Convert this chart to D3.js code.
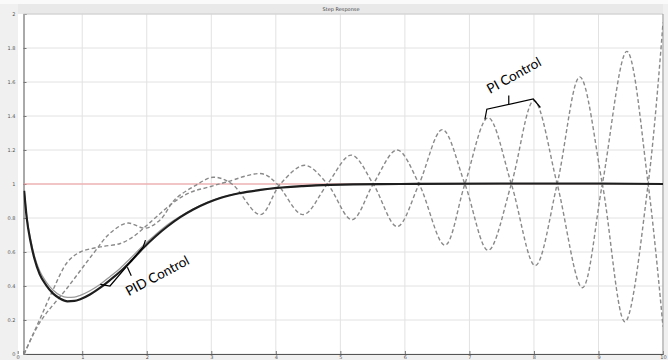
<!DOCTYPE html>
<html>
<head>
<meta charset="utf-8">
<script src="https://cdn.jsdelivr.net/npm/d3@7"></script>
<style>
  body { margin: 0; background: #f2f2f2; }
  svg { display: block; }
</style>
</head>
<body>
<svg id="chart" width="668" height="360"></svg>
<script>
// Tick values
const xTicks = [0, 1, 2, 3, 4, 5, 6, 7, 8, 9, 10];
const yTicks = [0, 0.2, 0.4, 0.6, 0.8, 1, 1.2, 1.4, 1.6, 1.8, 2];

// Reference (setpoint) level
const setpoint = [[0.09, 1], [10, 1]];

// PID control responses (solid)
const pidMain = [
  [0.10, 0.96], [0.14, 0.80], [0.20, 0.66], [0.26, 0.56], [0.34, 0.47], [0.44, 0.405],
  [0.55, 0.355], [0.66, 0.325], [0.77, 0.31], [0.88, 0.312], [0.97, 0.322], [1.12, 0.35],
  [1.28, 0.39], [1.43, 0.435], [1.59, 0.485], [1.74, 0.54], [1.95, 0.625], [2.13, 0.69],
  [2.32, 0.75], [2.52, 0.805], [2.72, 0.85], [2.94, 0.89], [3.14, 0.918], [3.45, 0.947],
  [3.76, 0.965], [4.02, 0.977], [4.42, 0.988], [4.84, 0.995], [5.20, 0.998], [5.93, 1.0],
  [7.48, 1.003], [9.02, 1.003], [10, 1.0]
];
const pidAlt = [
  [0.10, 0.965], [0.14, 0.81], [0.20, 0.675], [0.26, 0.575], [0.34, 0.49], [0.44, 0.425],
  [0.55, 0.375], [0.66, 0.345], [0.77, 0.333], [0.88, 0.335], [0.97, 0.345], [1.12, 0.372],
  [1.28, 0.41], [1.43, 0.455], [1.59, 0.505], [1.74, 0.56], [1.95, 0.64], [2.13, 0.70],
  [2.32, 0.76], [2.52, 0.81], [2.72, 0.853], [2.94, 0.892], [3.14, 0.92], [3.45, 0.948],
  [3.76, 0.966], [4.42, 0.988], [5.20, 0.998], [10, 1.0]
];

// PI control responses (dashed)
const piA = [
  [0.10, 0], [0.23, 0.11], [0.35, 0.21], [0.55, 0.38], [0.77, 0.54], [0.97, 0.60],
  [1.28, 0.63], [1.59, 0.65], [1.79, 0.69], [1.98, 0.75], [2.16, 0.81], [2.41, 0.89],
  [2.67, 0.95], [2.94, 0.98], [3.22, 1.01], [3.79, 1.06], [4.02, 1.0], [4.42, 0.82],
  [4.80, 1.0], [5.17, 1.17], [5.51, 1.0], [5.88, 0.75], [6.22, 1.0], [6.58, 1.32],
  [6.93, 1.0], [7.29, 0.61], [7.65, 1.0], [8.00, 1.49], [8.36, 1.0], [8.75, 0.39],
  [9.06, 1.0], [9.44, 1.78], [9.77, 1.0], [10, 0.16]
];
const piB = [
  [0.10, 0], [0.35, 0.19], [0.77, 0.39], [1.17, 0.59], [1.43, 0.71], [1.70, 0.77],
  [1.98, 0.74], [2.21, 0.79], [2.44, 0.91], [2.75, 0.99], [3.03, 1.04], [3.32, 1.0],
  [3.76, 0.82], [4.07, 1.0], [4.45, 1.11], [4.80, 1.0], [5.18, 0.79], [5.51, 1.0],
  [5.88, 1.2], [6.22, 1.0], [6.62, 0.64], [6.93, 1.0], [7.29, 1.39], [7.65, 1.0],
  [8.02, 0.52], [8.36, 1.0], [8.71, 1.63], [9.06, 1.0], [9.41, 0.19], [9.77, 1.0],
  [10, 1.95]
];

// Annotation brackets (data coordinates)
const pidBracket = [[1.28, 0.41], [1.43, 0.40], [1.945, 0.63], [1.98, 0.67]];
const pidTick = [[1.70, 0.51], [1.76, 0.46]];
const piBracket = [[7.24, 1.38], [7.27, 1.44], [7.99, 1.50], [8.10, 1.45]];
const piTick = [[7.61, 1.47], [7.61, 1.52]];

const W = 668, H = 360;
const plot = { left: 23.5, right: 663, top: 14, bottom: 354 };

const svg = d3.select("#chart");

const x = d3.scaleLinear().domain([0.09, 10]).range([plot.left, plot.right]);
const y = d3.scaleLinear().domain([0, 2]).range([plot.bottom, plot.top]);

// figure background
svg.append("rect").attr("x", 0).attr("y", 0).attr("width", W).attr("height", H).attr("fill", "#f0f0f0");
svg.append("rect").attr("x", 0).attr("y", 0).attr("width", W).attr("height", 4).attr("fill", "#fafafa");
svg.append("rect").attr("x", 18).attr("y", 4).attr("width", plot.right - 18).attr("height", 10).attr("fill", "#e9e9e9");
svg.append("rect").attr("x", 18).attr("y", plot.top).attr("width", plot.right - 18 + 1).attr("height", plot.bottom - plot.top + 1).attr("fill", "#ffffff");

// title
svg.append("text").attr("x", 341).attr("y", 11)
  .attr("text-anchor", "middle").attr("font-family", "DejaVu Sans").attr("font-size", 5)
  .attr("fill", "#444").text("Step Response");

// grid
const grid = svg.append("g");
grid.selectAll("line.v").data(xTicks.filter(d => x(d) > plot.left + 1)).join("line")
  .attr("x1", d => x(d)).attr("x2", d => x(d)).attr("y1", plot.top).attr("y2", plot.bottom)
  .attr("stroke", "#e2e2e2").attr("stroke-width", 1);
grid.selectAll("line.h").data(yTicks).join("line")
  .attr("x1", plot.left).attr("x2", plot.right).attr("y1", d => y(d)).attr("y2", d => y(d))
  .attr("stroke", "#e2e2e2").attr("stroke-width", 1);

// axes
const xAxis = d3.axisBottom(x).tickValues(xTicks).tickSize(-3).tickPadding(1).tickFormat(d3.format("d"));
const yAxis = d3.axisLeft(y).tickValues(yTicks).tickSize(-3).tickPadding(8).tickFormat(d => d3.format("~g")(d));

const gx = svg.append("g").attr("transform", `translate(0,${plot.bottom})`).call(xAxis);
const gy = svg.append("g").attr("transform", `translate(${plot.left},0)`).call(yAxis);
[gx, gy].forEach(g => {
  g.select(".domain").attr("stroke", "#555");
  g.selectAll(".tick line").attr("stroke", "#777");
  g.selectAll("text").attr("font-family", "DejaVu Sans").attr("font-size", 5).attr("fill", "#555");
});

// box top/right
svg.append("line").attr("x1", plot.left).attr("x2", plot.right).attr("y1", plot.top).attr("y2", plot.top).attr("stroke", "#cfcfcf");
svg.append("line").attr("x1", plot.right).attr("x2", plot.right).attr("y1", plot.top).attr("y2", plot.bottom).attr("stroke", "#999");

svg.append("clipPath").attr("id", "plotclip").append("rect")
  .attr("x", plot.left).attr("y", plot.top).attr("width", plot.right - plot.left).attr("height", plot.bottom - plot.top);

const marks = svg.append("g").attr("clip-path", "url(#plotclip)");
const lineWave = d3.line().x(d => x(d[0])).y(d => y(d[1])).curve(d3.curveCatmullRom.alpha(0.5));
const lineMono = d3.line().x(d => x(d[0])).y(d => y(d[1])).curve(d3.curveMonotoneX);
const lineStraight = d3.line().x(d => x(d[0])).y(d => y(d[1]));

marks.append("path").datum(setpoint).attr("d", lineStraight)
  .attr("fill", "none").attr("stroke", "#f29a9a").attr("stroke-width", 1.2);

[piA, piB].forEach(s => {
  marks.append("path").datum(s).attr("d", lineWave)
    .attr("fill", "none").attr("stroke", "#8a8a8a").attr("stroke-width", 1.4)
    .attr("stroke-dasharray", "4,2.5");
});

marks.append("path").datum(pidAlt).attr("d", lineMono)
  .attr("fill", "none").attr("stroke", "#9a9a9a").attr("stroke-width", 1.3);
marks.append("path").datum(pidMain).attr("d", lineMono)
  .attr("fill", "none").attr("stroke", "#1e1e1e").attr("stroke-width", 2.2);

// annotations
const ann = svg.append("g").attr("fill", "none").attr("stroke", "#000").attr("stroke-width", 1.2);
[pidBracket, pidTick, piBracket, piTick].forEach(p => ann.append("path").datum(p).attr("d", lineStraight));

function label(txt, at, angle) {
  svg.append("text")
    .attr("transform", `translate(${x(at[0])},${y(at[1])}) rotate(${angle})`)
    .attr("font-family", "Lato, 'Open Sans', sans-serif").attr("font-size", 13.5)
    .attr("fill", "#000").text(txt);
}
label("PID Control", [1.72, 0.34], -28);
label("PI Control", [7.32, 1.53], -29);
</script>
</body>
</html>
